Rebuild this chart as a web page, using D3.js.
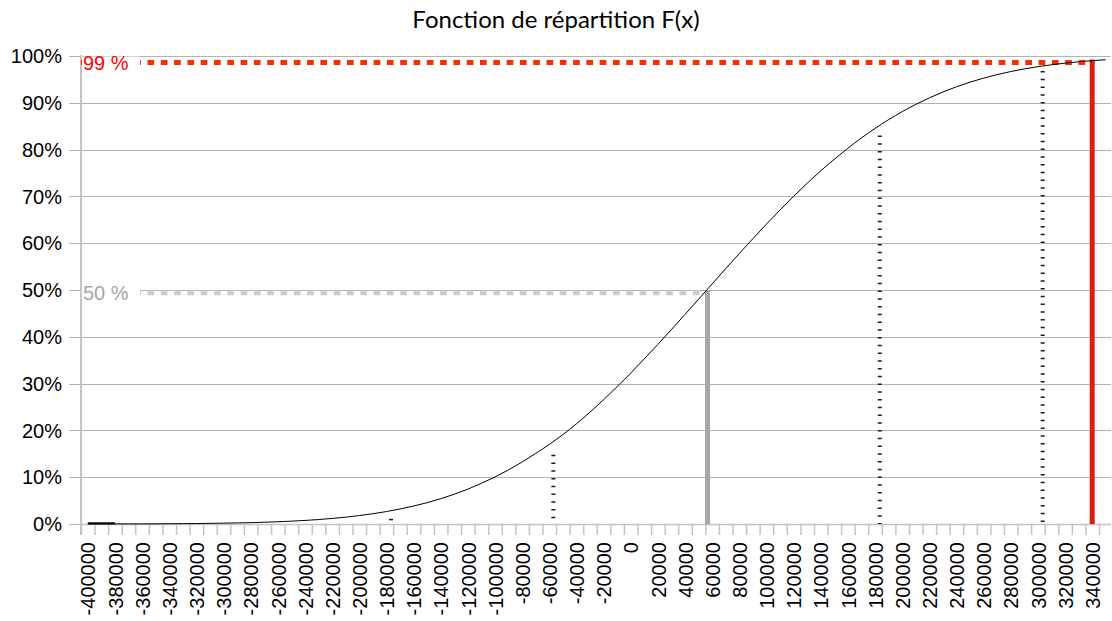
<!DOCTYPE html>
<html>
<head>
<meta charset="utf-8">
<script src="https://cdn.jsdelivr.net/npm/d3@7"></script>
<style>
  html, body { margin: 0; padding: 0; background: #ffffff; }
  svg { display: block; }
</style>
</head>
<body>
<svg id="chart" width="1112" height="621"></svg>
<script>
// ---------- data ----------
const title = "Fonction de répartition F(x)";

const curveX = [
  -400000, -390000, -380000, -370000, -360000, -350000, -340000, -330000, -320000, -310000,
  -300000, -290000, -280000, -270000, -260000, -250000, -240000, -230000, -220000, -210000,
  -200000, -190000, -180000, -170000, -160000, -150000, -140000, -130000, -120000, -110000,
  -100000, -90000, -80000, -70000, -60000, -50000, -40000, -30000, -20000, -10000,
  0, 10000, 20000, 30000, 40000, 50000, 60000, 70000, 80000, 90000,
  100000, 110000, 120000, 130000, 140000, 150000, 160000, 170000, 180000, 190000,
  200000, 210000, 220000, 230000, 240000, 250000, 260000, 270000, 280000, 290000,
  300000, 310000, 320000, 330000, 340000, 350000
];
const curveF = [
  0.0001, 0.0001, 0.0002, 0.0002, 0.0003, 0.0004, 0.0006, 0.0008, 0.0010, 0.0014,
  0.0018, 0.0023, 0.0029, 0.0038, 0.0048, 0.0061, 0.0076, 0.0095, 0.0119, 0.0146,
  0.0180, 0.0219, 0.0266, 0.0320, 0.0384, 0.0456, 0.0540, 0.0636, 0.0745, 0.0868,
  0.1005, 0.1157, 0.1325, 0.1508, 0.1700, 0.1910, 0.2140, 0.2390, 0.2655, 0.2935,
  0.3225, 0.3528, 0.3838, 0.4155, 0.4479, 0.4804, 0.5131, 0.5457, 0.5779, 0.6097,
  0.6408, 0.6710, 0.7002, 0.7281, 0.7546, 0.7794, 0.8029, 0.8249, 0.8452, 0.8640,
  0.8811, 0.8966, 0.9105, 0.9231, 0.9342, 0.9441, 0.9527, 0.9603, 0.9668, 0.9724,
  0.9772, 0.9813, 0.9848, 0.9876, 0.9900, 0.9920
];

// dotted vertical markers
const markX   = [-176600, -57000, 183500, 303500];
const markTop = [0.011, 0.148, 0.830, 0.968];

// median (grey) and 99 % quantile (red)
const medianX = 56600, medianF = 0.494, medianLabel = "50 %";
const q99X = 340000,  q99F = 0.986,  q99Label = "99 %";

// short base segment at bottom-left
const baseX = [-400000, -380000];
const baseF = [0.0015, 0.0015];

// axes
const xLabelValues = [
  -400000, -380000, -360000, -340000, -320000, -300000, -280000, -260000, -240000, -220000,
  -200000, -180000, -160000, -140000, -120000, -100000, -80000, -60000, -40000, -20000,
  0, 20000, 40000, 60000, 80000, 100000, 120000, 140000, 160000, 180000,
  200000, 220000, 240000, 260000, 280000, 300000, 320000, 340000
];
const yTickValues = [0, 0.1, 0.2, 0.3, 0.4, 0.5, 0.6, 0.7, 0.8, 0.9, 1.0];
const yTickLabels = ["0%", "10%", "20%", "30%", "40%", "50%", "60%", "70%", "80%", "90%", "100%"];

// ---------- layout ----------
const svg = d3.select("#chart");
const L = 81, R = 1099, T = 56, B = 524;
const gridRight = 1111;

const x = d3.scaleLinear().domain([-405000, 345000]).range([L, R]);
const y = d3.scaleLinear().domain([0, 1]).range([B, T]);

const font = "'Liberation Sans', Arial, sans-serif";

// title
svg.append("text")
  .attr("x", 556).attr("y", 28)
  .attr("text-anchor", "middle")
  .attr("font-family", "Lato, 'Open Sans', sans-serif")
  .attr("font-size", 24)
  .attr("fill", "#000")
  .text(title);

// horizontal grid
svg.append("g").selectAll("line").data(yTickValues).join("line")
  .attr("x1", 69).attr("x2", gridRight)
  .attr("y1", d => Math.round(y(d)) + 0.5).attr("y2", d => Math.round(y(d)) + 0.5)
  .attr("stroke", "#b3b3b3").attr("stroke-width", 1);

// y labels
svg.append("g").selectAll("text").data(yTickValues).join("text")
  .attr("x", 62).attr("y", d => y(d))
  .attr("dy", "0.36em")
  .attr("text-anchor", "end")
  .attr("font-family", font).attr("font-size", 20).attr("fill", "#000")
  .text((d, i) => yTickLabels[i]);

// y axis line
svg.append("line")
  .attr("x1", L).attr("x2", L).attr("y1", T - 1).attr("y2", B + 11)
  .attr("stroke", "#c4c4c4").attr("stroke-width", 2);

// x axis ticks (boundaries every 10000)
const xTickBounds = xLabelValues.flatMap(v => [v - 5000, v + 5000]);
const xAxis = d3.axisBottom(x).tickValues(xTickBounds).tickSize(11).tickFormat("").tickSizeOuter(0);
const gx = svg.append("g").attr("transform", `translate(0,${B})`).call(xAxis);
gx.select(".domain").remove();
gx.selectAll(".tick line").attr("stroke", "#c4c4c4").attr("stroke-width", 1.5);

// x labels (rotated)
const xLabAxis = d3.axisBottom(x).tickValues(xLabelValues).tickSize(0).tickFormat(d => String(d));
const gl = svg.append("g").attr("transform", `translate(0,${B})`).call(xLabAxis);
gl.select(".domain").remove();
gl.selectAll(".tick text")
  .attr("font-family", font).attr("font-size", 20).attr("fill", "#000")
  .attr("transform", "rotate(-90)")
  .attr("text-anchor", "end")
  .attr("x", -18).attr("y", 0).attr("dy", "0.36em");

// x axis line
svg.append("line")
  .attr("x1", L).attr("x2", gridRight).attr("y1", B + 0.5).attr("y2", B + 0.5)
  .attr("stroke", "#c4c4c4").attr("stroke-width", 1.5);

// base segment
svg.append("line")
  .attr("x1", x(baseX[0])).attr("x2", x(baseX[1]))
  .attr("y1", y(baseF[0])).attr("y2", y(baseF[1]))
  .attr("stroke", "#000").attr("stroke-width", 2);

// dotted markers
svg.append("g").selectAll("line").data(markX).join("line")
  .attr("x1", d => x(d)).attr("x2", d => x(d))
  .attr("y1", (d, i) => y(markTop[i])).attr("y2", B)
  .attr("stroke", "#1a1a1a").attr("stroke-width", 4)
  .attr("stroke-dasharray", "1.5,6.25");

// grey median lines
svg.append("line")
  .attr("x1", L).attr("x2", x(medianX))
  .attr("y1", y(medianF)).attr("y2", y(medianF))
  .attr("stroke", "#cccccc").attr("stroke-width", 5)
  .attr("stroke-dasharray", "6.7,6.6");
svg.append("line")
  .attr("x1", x(medianX)).attr("x2", x(medianX))
  .attr("y1", y(medianF) - 2.5).attr("y2", B)
  .attr("stroke", "#a6a6a6").attr("stroke-width", 5);

// red 99% lines
svg.append("line")
  .attr("x1", L).attr("x2", x(q99X))
  .attr("y1", y(q99F)).attr("y2", y(q99F))
  .attr("stroke", "#ff2a00").attr("stroke-width", 5)
  .attr("stroke-dasharray", "6.7,6.6");
svg.append("line")
  .attr("x1", x(q99X)).attr("x2", x(q99X))
  .attr("y1", y(q99F) - 3).attr("y2", B)
  .attr("stroke", "#dd1e0c").attr("stroke-width", 5);

// label backgrounds + labels
[[medianF, medianLabel, "#a6a6a6"], [q99F, q99Label, "#ff0000"]].forEach(([f, lab, col]) => {
  svg.append("rect")
    .attr("x", L + 1).attr("y", y(f) - 6).attr("width", 58).attr("height", 12)
    .attr("fill", "#fff");
  svg.append("text")
    .attr("x", 83).attr("y", y(f)).attr("dy", "0.36em")
    .attr("font-family", font).attr("font-size", 20).attr("fill", col)
    .text(lab);
});

// CDF curve
const pts = curveX.map((v, i) => [v, curveF[i]]);
svg.append("path")
  .datum(pts)
  .attr("fill", "none")
  .attr("stroke", "#000").attr("stroke-width", 1)
  .attr("d", d3.line().x(d => x(d[0])).y(d => y(d[1])).curve(d3.curveMonotoneX));
</script>
</body>
</html>
